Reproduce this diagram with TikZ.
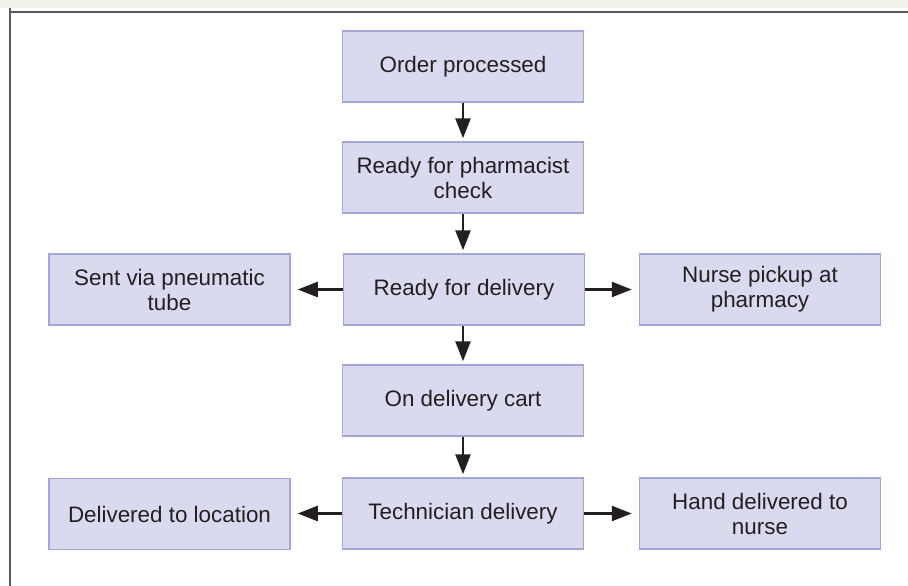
\documentclass[tikz,border=0pt]{standalone}
\usepackage{fontspec}
\setmainfont{Liberation Sans}
\usetikzlibrary{arrows.meta}
\definecolor{boxfill}{HTML}{D9DAEF}
\definecolor{boxline}{HTML}{A4A6D8}
\definecolor{txt}{HTML}{231F20}
\definecolor{strip}{HTML}{F1F1EA}
\definecolor{frame}{HTML}{5A5A5A}
\tikzset{
  flowbox/.style={draw=boxline, fill=boxfill, line width=1.5pt, minimum width=241pt, minimum height=71pt,
    inner sep=0pt, align=center, text=txt, font=\fontsize{22.4pt}{25pt}\selectfont},
  flowarrow/.style={draw=txt, line width=2.6pt, -{Triangle[length=20pt,width=15pt]}}
}
\begin{document}
\begin{tikzpicture}[x=1pt,y=-1pt]
\useasboundingbox (0,0) rectangle (908,586);
\fill[white] (0,0) rectangle (908,586);
\fill[strip] (0,0) rectangle (908,8);
\draw[frame, line width=2pt] (10,12) -- (908,12);
\draw[frame, line width=2pt] (10,8) -- (10,586);

\node[flowbox] (op)  at (463,66.5)  {Order processed};
\node[flowbox] (rpc) at (463,177.5) {Ready for pharmacist\\check};
\node[flowbox] (rfd) at (464,289.5) {Ready for delivery};
\node[flowbox] (pt)  at (169.5,289.5) {Sent via pneumatic\\tube};
\node[flowbox] (np)  at (760,289.5) {Nurse pickup at\\pharmacy};
\node[flowbox] (odc) at (463,400.5) {On delivery cart};
\node[flowbox] (td)  at (463,513.5) {Technician delivery};
\node[flowbox] (dl)  at (169.5,514) {Delivered to location};
\node[flowbox] (hd)  at (760,513.5) {Hand delivered to\\nurse};

\draw[flowarrow, shorten >=3pt] (op) -- (rpc);
\draw[flowarrow, shorten >=3pt] (rpc.south) -- (rpc.south |- rfd.north);
\draw[flowarrow, shorten >=3pt] (odc.north |- rfd.south) -- (odc);
\draw[flowarrow, shorten >=3pt] (odc) -- (td);
\draw[flowarrow, shorten >=7pt] (rfd) -- (pt);
\draw[flowarrow, shorten >=7pt] (rfd) -- (np);
\draw[flowarrow, shorten >=7pt] (td) -- (dl.east |- td.west);
\draw[flowarrow, shorten >=7pt] (td) -- (hd);
\end{tikzpicture}
\end{document}
